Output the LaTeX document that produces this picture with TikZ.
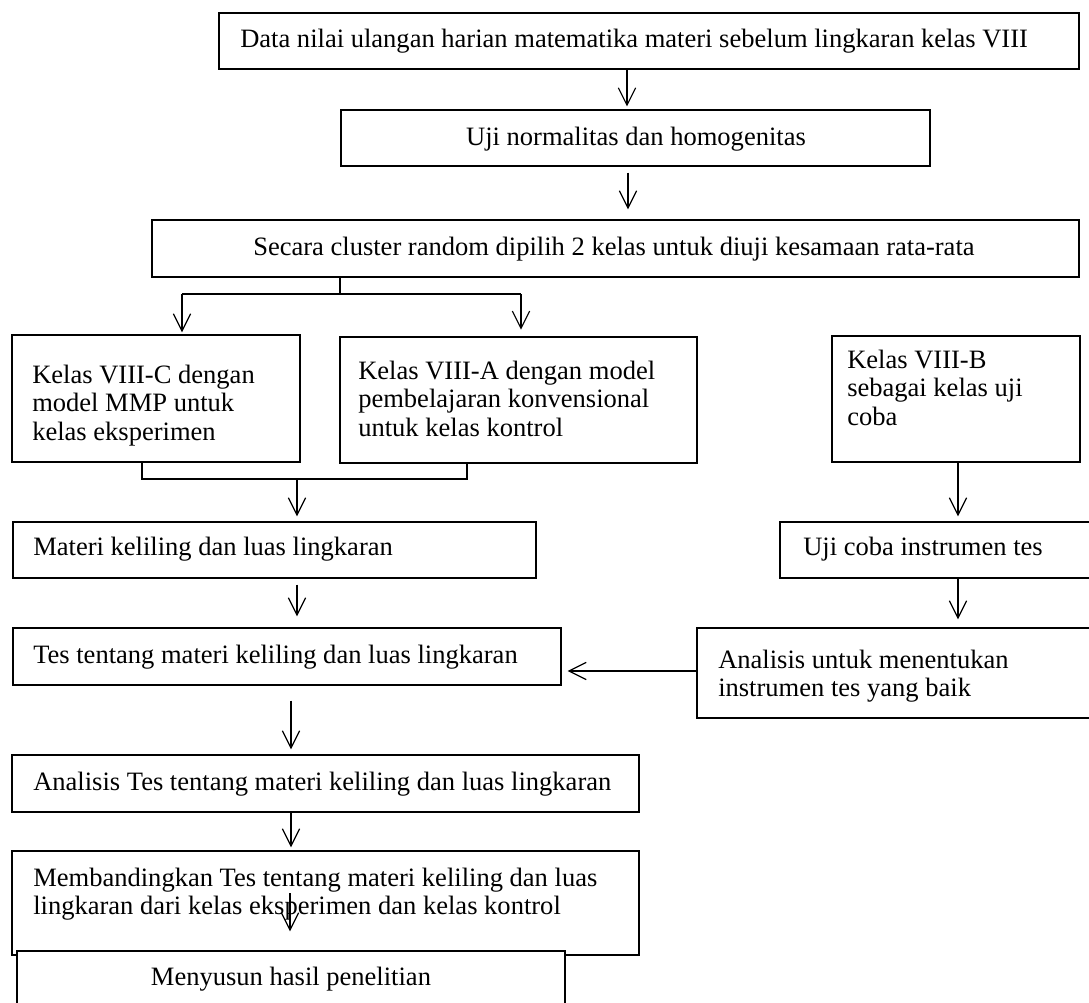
\documentclass[tikz,border=0pt]{standalone}
\usepackage{fontspec}
\setmainfont{Liberation Serif}
\usetikzlibrary{arrows.meta,fit,calc}
\tikzset{
  box/.style={draw=black, line width=0.9pt, fill=white, inner sep=0pt},
  txt/.style={inner sep=0pt, font=\fontsize{19.9pt}{21.2pt}\selectfont},
  mtxt/.style={txt, align=left, anchor=north west},
  arr/.style={line width=0.9pt, -{Straight Barb[length=13pt,width=13pt,line width=0.9pt]}},
  conn/.style={line width=0.9pt}
}
\begin{document}
\begin{tikzpicture}[x=0.75pt,y=-0.75pt]
\useasboundingbox (0,0) rectangle (1089,1003);
\fill[white] (0,0) rectangle (1089,1003);
\clip (0,0) rectangle (1089,1003);

% boxes
\node[box, fit={(219,13) (1079,69)}] (b1) {};
\node[box, fit={(341,110) (930,166)}] (b2) {};
\node[box, fit={(152,220) (1079,277)}] (b3) {};
\node[box, fit={(12,335) (300,462)}] (bC) {};
\node[box, fit={(340,337) (697,463)}] (bA) {};
\node[box, fit={(832,336) (1080,462)}] (bB) {};
\node[box, fit={(13,522) (536,578)}] (bM) {};
\node[box, fit={(780,522) (1100,578)}] (bU) {};
\node[box, fit={(13,628) (561,685)}] (bT) {};
\node[box, fit={(697,628) (1100,718)}] (bN) {};
\node[box, fit={(12,755) (639,812)}] (bAT) {};
\node[box, fit={(12,851) (639,955)}] (bMb) {};

% texts
\node[txt, anchor=mid west] (t1) at (240,44) {Data nilai ulangan harian matematika materi sebelum lingkaran kelas VIII};
\node[txt, anchor=mid] (t2) at (636,142) {Uji normalitas dan homogenitas};
\node[txt, anchor=mid west] (t3) at (253,252) {Secara cluster random dipilih 2 kelas untuk diuji kesamaan rata-rata};
\node[mtxt] (tC) at (32,365) {Kelas VIII-C dengan\\model MMP untuk\\kelas eksperimen};
\node[mtxt] (tA) at (358,361) {Kelas VIII-A dengan model\\pembelajaran konvensional\\untuk kelas kontrol};
\node[mtxt] (tB) at (847,350) {Kelas VIII-B\\sebagai kelas uji\\coba};
\node[txt, anchor=mid west] (tM) at (33,552) {Materi keliling dan luas lingkaran};
\node[txt, anchor=mid west] (tU) at (803,552) {Uji coba instrumen tes};
\node[txt, anchor=mid west] (tT) at (33,660) {Tes tentang materi keliling dan luas lingkaran};
\node[mtxt] (tN) at (718,650) {Analisis untuk menentukan\\instrumen tes yang baik};
\node[txt, anchor=mid west] (tAT) at (33,787) {Analisis Tes tentang materi keliling dan luas lingkaran};
\node[mtxt] (tMb) at (33,868) {Membandingkan Tes tentang materi keliling dan luas\\lingkaran dari kelas eksperimen dan kelas kontrol};

% helper coordinates
\coordinate (x627) at (627,0);
\coordinate (x628) at (628,0);
\coordinate (j0) at (340,294);
\coordinate (jL) at (182,294);
\coordinate (jR) at (521,294);
\coordinate (m1) at (142,479);
\coordinate (m2) at (467,479);
\coordinate (m3) at (297,479);
\coordinate (x297) at (297,0);
\coordinate (x291) at (291,0);
\coordinate (s8) at (290,893);
\coordinate (x958) at (958,0);
\coordinate (y671) at (0,671);

% connectors
\draw[arr, shorten >=2.2pt] (b1.south -| x627) -- (b2.north -| x627);
\draw[arr, shorten <=4.5pt, shorten >=7.5pt] (b2.south -| x628) -- (b3.north -| x628);
\draw[conn] (b3.south -| j0) -- (j0);
\draw[conn] (jL) -- (jR);
\draw[arr, shorten >=1.5pt] (jL) -- (bC.north -| jL);
\draw[arr, shorten >=5pt] (jR) -- (bA.north -| jR);
\draw[conn] (bC.south -| m1) -- (m1) -- (m2) -- (bA.south -| m2);
\draw[arr, shorten >=3.75pt] (m3) -- (bM.north -| m3);
\draw[arr, shorten <=4.5pt, shorten >=8.25pt] (bM.south -| x297) -- (bT.north -| x297);
\draw[arr, shorten <=11.25pt, shorten >=3.75pt] (bT.south -| x291) -- (bAT.north -| x291);
\draw[arr, shorten >=2.25pt] (bAT.south -| x291) -- (bMb.north -| x291);
\draw[arr, shorten >=3.75pt] (bB.south -| x958) -- (bU.north -| x958);
\draw[arr, shorten >=6pt] (bU.south -| x958) -- (bN.north -| x958);
\draw[arr, shorten >=4.5pt] (bN.west |- y671) -- (bT.east |- y671);

% last box on top
\node[box, fit={(17,951) (565,1020)}] (bS) {};
\node[txt, anchor=mid] (tS) at (291,982) {Menyusun hasil penelitian};
\draw[arr, shorten >=14.25pt] (s8) -- (bS.north -| s8);
\end{tikzpicture}
\end{document}
